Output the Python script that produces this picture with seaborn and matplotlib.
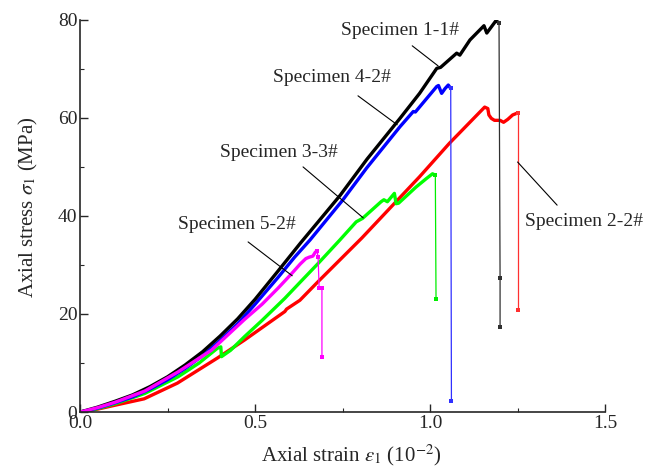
import matplotlib
matplotlib.use("Agg")
import matplotlib.pyplot as plt
import seaborn as sns
import pandas as pd
from matplotlib.ticker import MultipleLocator, FormatStrFormatter

# ---- data (strain in 10^-2, stress in MPa) ----
s11_x = [0.0, 0.05, 0.1, 0.15, 0.2, 0.25, 0.3, 0.35, 0.4, 0.45, 0.5, 0.566, 0.63, 0.7, 0.743, 0.82, 0.914,
         0.97, 1.019, 1.03, 1.076, 1.085, 1.114, 1.154, 1.162, 1.188, 1.197]
s11_y = [0.0, 1.0, 2.2, 3.5, 5.2, 7.2, 9.6, 12.3, 15.5, 19.0, 23.0, 28.8, 34.5, 40.5, 44.2, 51.6, 59.9,
         65.0, 70.1, 70.3, 73.2, 72.8, 75.9, 78.8, 77.3, 79.8, 79.4]
s11_dx = [1.197, 1.2, 1.2]
s11_dy = [79.4, 27.3, 17.3]

s42_x = [0.0, 0.05, 0.1, 0.15, 0.2, 0.25, 0.3, 0.35, 0.4, 0.45, 0.5, 0.566, 0.613, 0.657, 0.75, 0.819, 0.914,
         0.952, 0.958, 1.019, 1.024, 1.033, 1.043, 1.052, 1.059]
s42_y = [0.0, 0.8, 1.9, 3.1, 4.7, 6.6, 8.9, 11.5, 14.6, 18.0, 22.0, 27.5, 31.6, 35.1, 43.2, 49.8, 58.2,
         61.3, 61.2, 66.4, 66.6, 65.0, 66.0, 66.7, 66.0]
s42_dx = [1.059, 1.061]
s42_dy = [66.0, 2.2]

s33_x = [0.0, 0.05, 0.1, 0.185, 0.28, 0.34, 0.392, 0.402, 0.404, 0.43, 0.47, 0.52, 0.585, 0.629, 0.68, 0.741,
         0.789, 0.807, 0.86, 0.868, 0.878, 0.898, 0.903, 0.91, 0.96, 0.989, 1.007, 1.015]
s33_y = [0.0, 0.7, 1.7, 3.8, 7.2, 10.0, 13.0, 13.3, 11.3, 12.6, 15.4, 18.7, 23.2, 26.5, 30.3, 35.0,
         38.8, 39.5, 42.9, 43.3, 42.9, 44.6, 42.5, 42.6, 45.9, 47.6, 48.6, 48.3]
s33_dx = [1.015, 1.017]
s33_dy = [48.3, 23.1]

s52_x = [0.0, 0.05, 0.1, 0.185, 0.28, 0.375, 0.47, 0.52, 0.566, 0.604, 0.629, 0.645, 0.655, 0.665, 0.672, 0.677]
s52_y = [0.0, 0.9, 2.0, 4.3, 8.2, 12.6, 18.9, 22.0, 25.3, 28.2, 30.2, 31.3, 31.6, 31.8, 32.6, 32.9]
s52_dx = [0.677, 0.68, 0.683, 0.691, 0.691]
s52_dy = [32.9, 31.6, 25.3, 25.3, 11.2]

s22_x = [0.0, 0.05, 0.1, 0.183, 0.278, 0.392, 0.47, 0.585, 0.59, 0.628, 0.68, 0.805, 0.9, 0.97, 1.055,
         1.156, 1.165, 1.168, 1.175, 1.184, 1.2, 1.21, 1.222, 1.236, 1.25]
s22_y = [0.0, 0.6, 1.4, 2.7, 5.9, 11.0, 14.7, 20.5, 21.0, 22.8, 26.6, 35.5, 42.7, 48.0, 54.8,
         62.2, 61.9, 60.6, 59.9, 59.5, 59.5, 59.1, 59.7, 60.6, 61.0]
s22_dx = [1.25, 1.25]
s22_dy = [61.0, 20.8]

labels = ["Specimen 1-1#", "Specimen 4-2#", "Specimen 3-3#", "Specimen 5-2#", "Specimen 2-2#"]

sns.set_style("ticks")
plt.rcParams['font.family'] = ['Liberation Serif', 'DejaVu Serif']
plt.rcParams['mathtext.fontset'] = 'stix'

fig = plt.figure(figsize=(6.62, 4.72), dpi=100)
ax = fig.add_axes([0.121, 0.127, 0.793, 0.831])

series = [
    (s22_x, s22_y, s22_dx, s22_dy, "#ff0000", "#ff3030"),
    (s33_x, s33_y, s33_dx, s33_dy, "#00ff00", "#00ee00"),
    (s42_x, s42_y, s42_dx, s42_dy, "#0000ff", "#3030ff"),
    (s11_x, s11_y, s11_dx, s11_dy, "#000000", "#303030"),
    (s52_x, s52_y, s52_dx, s52_dy, "#ff00ff", "#ff00ff"),
]
for cx, cy, dx, dy, col, dcol in series:
    df = pd.DataFrame({"x": cx, "y": cy})
    sns.lineplot(data=df, x="x", y="y", sort=False, estimator=None, color=col,
                 linewidth=2.4, ax=ax)
    dd = pd.DataFrame({"x": dx, "y": dy})
    sns.lineplot(data=dd, x="x", y="y", sort=False, estimator=None, color=dcol,
                 linewidth=0.9, marker="s", markersize=2.5, markeredgewidth=0, ax=ax)

ax.set_xlim(0, 1.5)
ax.set_ylim(0, 80)
ax.xaxis.set_major_locator(MultipleLocator(0.5))
ax.xaxis.set_minor_locator(MultipleLocator(0.25))
ax.yaxis.set_major_locator(MultipleLocator(20))
ax.yaxis.set_minor_locator(MultipleLocator(10))
ax.tick_params(which="major", direction="in", length=6, width=1, labelsize=14, pad=2)
ax.tick_params(which="minor", direction="in", length=3, width=0.8)
ax.xaxis.set_major_formatter(FormatStrFormatter('%.1f'))
for side in ["top", "right"]:
    ax.spines[side].set_visible(False)
for side in ["left", "bottom"]:
    ax.spines[side].set_linewidth(1.2)

ax.set_xlabel(r"Axial strain $\varepsilon_1$ (10$^{-2}$)", fontsize=15)
ax.set_ylabel(r"Axial stress $\sigma_1$ (MPa)", fontsize=15)
ax.xaxis.set_label_coords(0.516, -0.077)
ax.yaxis.set_label_coords(-0.077, 0.523)

# annotations
ann = [
    (labels[0], (1.023, 70.6), (0.914, 77.9), (0.949, 74.7)),
    (labels[1], (0.906, 58.6), (0.72, 68.2), (0.794, 64.5)),
    (labels[2], (0.809, 39.6), (0.569, 52.9), (0.637, 50.0)),
    (labels[3], (0.606, 27.8), (0.449, 38.2), (0.48, 34.7)),
    (labels[4], (1.25, 51.0), (1.44, 38.8), (1.363, 42.2)),
]
for txt, tip, tpos, start in ann:
    ax.text(tpos[0], tpos[1], txt, fontsize=14, ha="center", va="center")
    ax.plot([start[0], tip[0]], [start[1], tip[1]], color="black", linewidth=0.8)

fig.savefig("out.png", dpi=100)
